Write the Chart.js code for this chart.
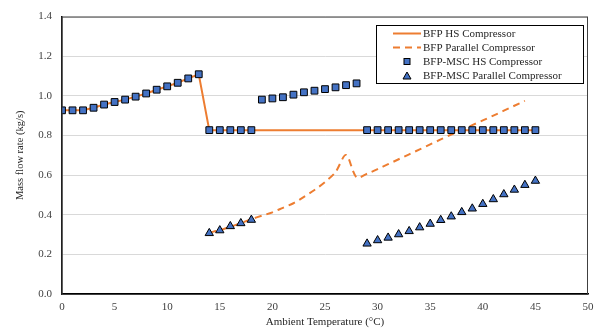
<!DOCTYPE html>
<html>
<head>
<meta charset="utf-8">
<script src="https://cdn.jsdelivr.net/npm/chart.js@4.4.0/dist/chart.umd.min.js"></script>
<style>
    html, body { margin: 0; padding: 0; background: #fff; }
    #wrap { width: 596px; height: 329px; position: relative; }
</style>
</head>
<body>
<div id="wrap"><canvas id="chart"></canvas></div>
<script>
// ============================================
// Mass flow rate vs ambient temperature
// ============================================

// BFP HS compressor (solid line)
const bfpHsTemps = [0, 1, 2, 3, 4, 5, 6, 7, 8, 9, 10, 11, 12, 13, 14, 45];
const bfpHsFlow = [0.927, 0.927, 0.927, 0.94, 0.956, 0.969, 0.981, 0.996, 1.012, 1.031, 1.048, 1.066, 1.088, 1.109, 0.827, 0.827];

// BFP parallel compressor (dashed line)
const bfpParTemps = [14, 15, 16, 17, 18, 19, 20, 21, 22, 23, 24, 25, 26, 27, 28, 29, 30, 31, 32, 33, 34, 35, 36, 37, 38, 39, 40, 41, 42, 43, 44];
const bfpParFlow = [0.31, 0.322, 0.34, 0.357, 0.378, 0.395, 0.412, 0.435, 0.458, 0.49, 0.525, 0.565, 0.615, 0.702, 0.588, 0.607, 0.63, 0.655, 0.68, 0.705, 0.73, 0.755, 0.78, 0.805, 0.828, 0.852, 0.876, 0.9, 0.925, 0.95, 0.975];

// BFP-MSC HS compressor (squares)
const mscHsTemps = [0, 1, 2, 3, 4, 5, 6, 7, 8, 9, 10, 11, 12, 13, 14, 15, 16, 17, 18, 19, 20, 21, 22, 23, 24, 25, 26, 27, 28, 29, 30, 31, 32, 33, 34, 35, 36, 37, 38, 39, 40, 41, 42, 43, 44, 45];
const mscHsFlow = [0.927, 0.927, 0.927, 0.94, 0.956, 0.969, 0.981, 0.996, 1.012, 1.031, 1.048, 1.066, 1.088, 1.109,
    0.827, 0.827, 0.827, 0.827, 0.827,
    0.981, 0.987, 0.993, 1.006, 1.018, 1.026, 1.034, 1.043, 1.054, 1.063,
    0.827, 0.827, 0.827, 0.827, 0.827, 0.827, 0.827, 0.827, 0.827, 0.827, 0.827, 0.827, 0.827, 0.827, 0.827, 0.827, 0.827];

// BFP-MSC parallel compressor (triangles)
const mscParTemps = [14, 15, 16, 17, 18, 29, 30, 31, 32, 33, 34, 35, 36, 37, 38, 39, 40, 41, 42, 43, 44, 45];
const mscParFlow = [0.307, 0.321, 0.342, 0.357, 0.374, 0.254, 0.271, 0.284, 0.301, 0.317, 0.336, 0.354, 0.373, 0.391, 0.413, 0.431, 0.454, 0.478, 0.503, 0.526, 0.55, 0.571];

const seriesLabels = ["BFP HS Compressor", "BFP Parallel Compressor", "BFP-MSC HS Compressor", "BFP-MSC Parallel Compressor"];

const ORANGE = "#ED7D31";
const BLUE = "#4472C4";
const FONT = "'Liberation Serif', 'Times New Roman', serif";

function toPoints(xs, ys) {
    return xs.map((x, i) => ({ x, y: ys[i] }));
}

// frame round the plot area + boxed legend inside it
const framePlugin = {
    id: "frame",
    afterDraw(chart) {
        const { ctx, chartArea: a } = chart;
        ctx.save();
        ctx.strokeStyle = "#404040";
        ctx.lineWidth = 1;
        ctx.strokeRect(a.left, a.top + 0.5, a.right - a.left - 0.5, a.bottom - a.top);

        // legend box
        const bx = 376, by = 25, bw = 207, bh = 58;
        ctx.fillStyle = "#fff";
        ctx.fillRect(bx, by, bw, bh);
        ctx.strokeStyle = "#000";
        ctx.strokeRect(bx + 0.5, by + 0.5, bw, bh);

        const rows = [33.5, 47.5, 61.5, 76];
        ctx.font = "11px " + FONT;
        ctx.textBaseline = "middle";

        // solid sample
        ctx.strokeStyle = ORANGE;
        ctx.lineWidth = 2;
        ctx.beginPath();
        ctx.moveTo(393, rows[0]);
        ctx.lineTo(421, rows[0]);
        ctx.stroke();
        // dashed sample
        ctx.setLineDash([7, 5]);
        ctx.beginPath();
        ctx.moveTo(393, rows[1]);
        ctx.lineTo(421, rows[1]);
        ctx.stroke();
        ctx.setLineDash([]);

        // marker samples
        ctx.fillStyle = BLUE;
        ctx.strokeStyle = "#000";
        ctx.lineWidth = 1;
        ctx.fillRect(404, rows[2] - 3, 6, 6);
        ctx.strokeRect(404, rows[2] - 3, 6, 6);
        ctx.beginPath();
        ctx.moveTo(407, rows[3] - 4);
        ctx.lineTo(411, rows[3] + 3);
        ctx.lineTo(403, rows[3] + 3);
        ctx.closePath();
        ctx.fill();
        ctx.stroke();

        ctx.fillStyle = "#262626";
        seriesLabels.forEach((t, i) => ctx.fillText(t, 423, rows[i] + 0.5));
        ctx.restore();
    }
};

const ctx = document.getElementById("chart").getContext("2d");

new Chart(ctx, {
    type: "scatter",
    data: {
        datasets: [
            {
                label: seriesLabels[2],
                data: toPoints(mscHsTemps, mscHsFlow),
                pointStyle: "rect",
                pointRadius: 4.8,
                backgroundColor: BLUE,
                borderColor: "#000",
                borderWidth: 1,
                order: 0,
            },
            {
                label: seriesLabels[3],
                data: toPoints(mscParTemps, mscParFlow),
                pointStyle: "triangle",
                pointRadius: 4.8,
                backgroundColor: BLUE,
                borderColor: "#000",
                borderWidth: 1,
                order: 1,
            },
            {
                label: seriesLabels[0],
                data: toPoints(bfpHsTemps, bfpHsFlow),
                showLine: true,
                borderColor: ORANGE,
                borderWidth: 2,
                pointRadius: 0,
                tension: 0,
                order: 2,
            },
            {
                label: seriesLabels[1],
                data: toPoints(bfpParTemps, bfpParFlow),
                showLine: true,
                borderColor: ORANGE,
                borderWidth: 2,
                borderDash: [7, 5],
                pointRadius: 0,
                tension: 0.3,
                order: 3,
            },
        ],
    },
    options: {
        responsive: true,
        maintainAspectRatio: false,
        animation: false,
        layout: { padding: { left: 14, top: 13, right: 8, bottom: 0 } },
        plugins: {
            legend: { display: false },
            tooltip: { enabled: false },
        },
        scales: {
            x: {
                type: "linear",
                min: 0,
                max: 50,
                grid: { display: false, drawTicks: false },
                border: { display: true, color: "#000", width: 1.5 },
                ticks: {
                    stepSize: 5,
                    color: "#404040",
                    font: { family: FONT, size: 11 },
                    padding: 7,
                },
                title: {
                    display: true,
                    text: "Ambient Temperature (°C)",
                    color: "#262626",
                    font: { family: FONT, size: 11 },
                    padding: { top: 2, bottom: 0 },
                },
                afterFit: (scale) => {
                    scale.height = 35;
                    scale.paddingRight = 0;
                },
            },
            y: {
                min: 0,
                max: 1.4,
                grid: { color: "#d9d9d9", lineWidth: 1, drawTicks: false },
                border: { display: true, color: "#000", width: 1.5 },
                ticks: {
                    stepSize: 0.2,
                    color: "#404040",
                    font: { family: FONT, size: 11 },
                    padding: 10,
                    callback: (v) => v.toFixed(1),
                },
                title: {
                    display: true,
                    text: "Mass flow rate (kg/s)",
                    color: "#262626",
                    font: { family: FONT, size: 10.5 },
                    padding: { top: 0, bottom: 4 },
                },
                afterFit: (scale) => { scale.width = 48; },
            },
        },
    },
    plugins: [framePlugin],
});
</script>
</body>
</html>
